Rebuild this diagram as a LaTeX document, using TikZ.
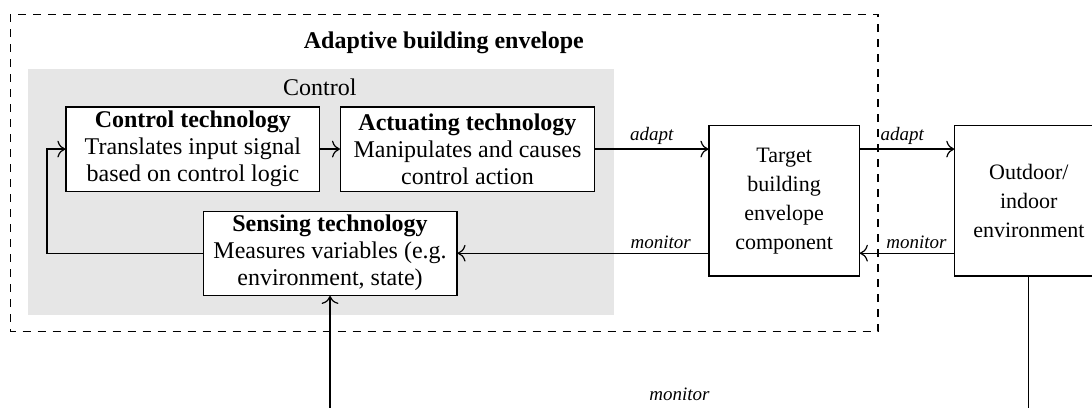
\documentclass[tikz,border=0pt]{standalone}
\usepackage{fontspec}
\setmainfont{Liberation Serif}
\usepackage{tikz}
\usetikzlibrary{arrows.meta, positioning, calc}
\definecolor{ctrlgray}{RGB}{230,230,230}
\tikzset{
  bxT/.style={draw=black, fill=white, line width=0.6pt, align=center,
              minimum width=4.46cm, minimum height=1.48cm, inner sep=2pt,
              font=\fontsize{12}{13.5}\selectfont},
  bxS/.style={draw=black, fill=white, line width=0.6pt, align=center,
              minimum width=#1, minimum height=2.64cm, inner sep=2pt,
              font=\fontsize{11}{14.5}\selectfont},
  arr/.style={-{To[length=4pt]}, line width=0.6pt},
  lbl/.style={font=\fontsize{9.5}{10}\selectfont\itshape, inner sep=2pt},
}
\begin{document}
\begin{tikzpicture}[>=To]
      \useasboundingbox (0,0) rectangle (19.19,-7.17);

      % ── envelope frame and control area ─────────────────────
      \draw[dash pattern=on 4pt off 3.5pt, line width=0.6pt]
        (0.18,-0.25) rectangle (15.43,-5.83);
      \node[font=\fontsize{12}{14}\selectfont\bfseries] (title) at (7.80,-0.76)
        {Adaptive building envelope};
      \fill[ctrlgray] (0.49,-1.21) rectangle (10.79,-5.54);
      \node[font=\fontsize{12}{14}\selectfont] (ctrllbl) at (5.62,-1.53) {Control};

      % ── technologies ───────────────────────────────────────
      \node[bxT] (ctrl) at (3.39,-2.62)
        {\textbf{Control technology}\\Translates input signal\\based on control logic};
      \node[bxT] (act) at (8.215,-2.62)
        {\textbf{Actuating technology}\\Manipulates and causes\\control action};
      \node[bxT] (sens) at (5.80,-4.45)
        {\textbf{Sensing technology}\\Measures variables (e.g.\\environment, state)};

      % ── target and environment ─────────────────────────────
      \node[bxS=2.64cm] (target) at (13.78,-3.53)
        {Target\\building\\envelope\\component};
      \node[bxS=2.60cm] (env) at (18.08,-3.53)
        {Outdoor/\\indoor\\environment};
      \coordinate (loopL) at (0.826,0);
      \coordinate (loopB) at (0,-7.26);

      % ── connectors ─────────────────────────────────────────
      \draw[arr] (ctrl) -- (act);
      \draw[arr] (act.east) -- node[lbl, above]{adapt} (act.east -| target.west);
      \draw[arr] (act.east -| target.east) -- node[lbl, above, pos=0.45]{adapt}
        (act.east -| env.west);
      \draw[arr] (sens.east -| env.west) -- node[lbl, above, pos=0.4]{monitor}
        (sens.east -| target.east);
      \draw[arr] (sens.east -| target.west) -- node[lbl, above, pos=0.19]{monitor}
        (sens.east);
      \draw[arr] (sens.west) -- (sens.west -| loopL) |- (ctrl.west);
      \draw[arr] (env.south) -- (env.south |- loopB)
        -- node[lbl, above, yshift=4pt]{monitor} (sens.south |- loopB) -- (sens.south);
    \end{tikzpicture}
\end{document}
